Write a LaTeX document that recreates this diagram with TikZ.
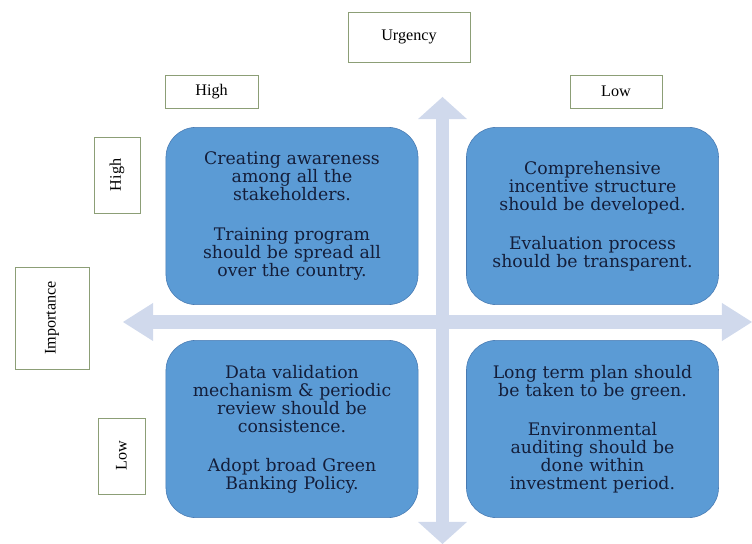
\documentclass[tikz,border=0pt]{standalone}
\usepackage{fontspec}
\setmainfont{Liberation Serif}
\newfontfamily\quadfont{DejaVu Serif}
\usetikzlibrary{arrows.meta}

\definecolor{quadblue}{RGB}{91,155,213}
\definecolor{quadedge}{RGB}{72,122,178}
\definecolor{quadtext}{RGB}{20,30,58}
\definecolor{axisblue}{RGB}{208,217,236}
\definecolor{tagedge}{RGB}{140,158,118}

\begin{document}
\begin{tikzpicture}
	[x=0.025cm,y=-0.025cm,
	%Styles
	quadrant/.style={rounded corners=0.75cm,fill=quadblue,draw=quadedge,
		minimum width=6.3cm,minimum height=4.43cm,text width=5.9cm,align=center,
		text=quadtext,font=\quadfont\fontsize{12.3}{12.8}\selectfont},
	tag/.style={draw=tagedge,fill=white,inner sep=0pt,font=\fontsize{11.5}{13}\selectfont},
	axis/.style={line width=0.33cm,axisblue},
	vtip/.tip={Triangle[width=1.22cm,length=0.55cm,line width=0pt]},
	htip/.tip={Triangle[width=0.95cm,length=0.75cm,line width=0pt]}
	]
	
	\useasboundingbox (0,0) rectangle (752,544);
	
	%The axes
	\coordinate (top) at (442.5,97);
	\coordinate (bottom) at (442.5,544);
	\coordinate (left) at (123,322);
	\coordinate (right) at (752,322);
	\draw[axis,{vtip}-{vtip}] (top) -- (bottom);
	\draw[axis,{htip}-{htip}] (left) -- (right);
	
	%Urgency labels
	\node[tag,minimum width=3.05cm,minimum height=1.25cm] (urgency) at (409,37) {Urgency};
	\node[tag,minimum width=2.33cm,minimum height=0.83cm] (uhigh) at (211.5,91.5) {High};
	\node[tag,minimum width=2.3cm,minimum height=0.83cm] (ulow) at (616,91.5) {Low};
	
	%Importance labels
	\node[tag,rotate=90,minimum width=1.9cm,minimum height=1.15cm] (ihigh) at (117,175) {High};
	\node[tag,rotate=90,minimum width=2.55cm,minimum height=1.85cm] (importance) at (52,318) {Importance};
	\node[tag,rotate=90,minimum width=1.9cm,minimum height=1.18cm] (ilow) at (121.5,456) {Low};
	
	%The quadrants
	\node[quadrant] (hh) at (292,216)
		{Creating awareness\\ among all the\\ stakeholders.\\[15pt]
		Training program\\ should be spread all\\ over the country.};
	\node[quadrant] (hl) at (592.5,216)
		{Comprehensive\\ incentive structure\\ should be developed.\\[15pt]
		Evaluation process\\ should be transparent.};
	\node[quadrant] (lh) at (292,429)
		{Data validation\\ mechanism \& periodic\\ review should be\\ consistence.\\[15pt]
		Adopt broad Green\\ Banking Policy.};
	\node[quadrant] (ll) at (592.5,429)
		{Long term plan should\\ be taken to be green.\\[15pt]
		Environmental\\ auditing should be\\ done within\\ investment period.};
\end{tikzpicture}
\end{document}
